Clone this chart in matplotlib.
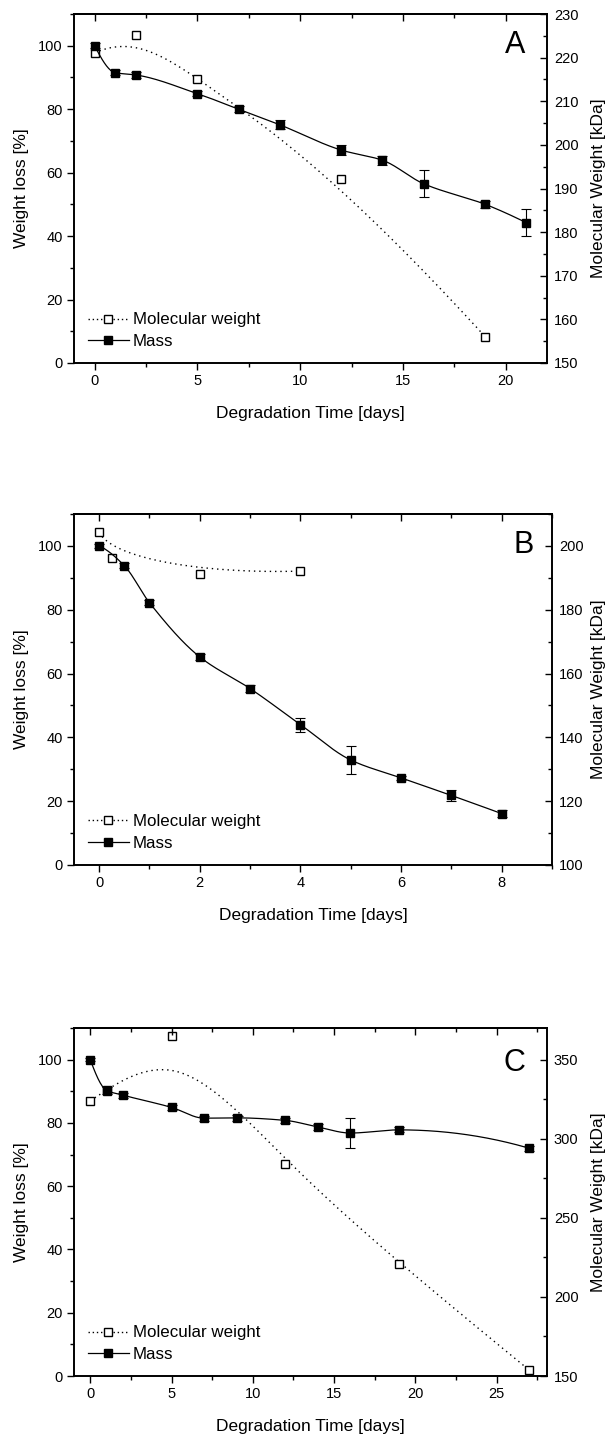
import numpy as np
import matplotlib
matplotlib.use("Agg")
import matplotlib.pyplot as plt
from matplotlib.ticker import MultipleLocator
from matplotlib.lines import Line2D

plt.rcParams['font.family'] = ['Liberation Sans', 'DejaVu Sans']

# ---- panel A ----
a_days = [0, 1, 2, 5, 7, 9, 12, 14, 16, 19, 21]
a_mass = [100, 91.5, 90.8, 84.9, 80.0, 75.1, 67.1, 63.9, 56.5, 50.0, 44.2]
a_err = [0.8, 0.8, 0.9, 0.8, 1.0, 1.5, 1.5, 1.5, 4.2, 1.2, 4.3]
a_mw_days = [0, 2, 5, 12, 19]
a_mw = [221.1, 225.2, 215.1, 192.1, 156.0]

# ---- panel B ----
b_days = [0, 0.5, 1, 2, 3, 4, 5, 6, 7, 8]
b_mass = [100, 93.8, 82.2, 65.2, 55.3, 44.0, 32.9, 27.3, 21.8, 16.1]
b_err = [0.5, 0.8, 0.8, 0.8, 1.2, 2.2, 4.5, 0.6, 1.7, 1.0]
b_mw_days = [0, 0.25, 2, 4]
b_mw = [204.3, 196.2, 191.2, 192.1]

# ---- panel C ----
c_days = [0, 1, 2, 5, 7, 9, 12, 14, 16, 19, 27]
c_mass = [100, 90.3, 88.8, 84.9, 81.5, 81.6, 80.8, 78.7, 76.8, 77.8, 72.0]
c_err = [0.5, 1.2, 0.8, 0.8, 0.8, 1.0, 0.8, 0.8, 4.7, 0.8, 0.8]
c_mw_days = [0, 1, 5, 12, 19, 27]
c_mw = [324.1, 330.0, 365.2, 284.0, 220.9, 153.8]


def pchip(x, y, n=400):
    # shape preserving cubic through the points
    x = np.asarray(x, float)
    y = np.asarray(y, float)
    h = np.diff(x)
    delta = np.diff(y) / h
    m = len(x)
    d = np.zeros(m)
    for i in range(1, m - 1):
        if delta[i - 1] * delta[i] > 0:
            w1 = 2 * h[i] + h[i - 1]
            w2 = h[i] + 2 * h[i - 1]
            d[i] = (w1 + w2) / (w1 / delta[i - 1] + w2 / delta[i])

    def end(h0, h1, d0, d1):
        s = ((2 * h0 + h1) * d0 - h0 * d1) / (h0 + h1)
        if np.sign(s) != np.sign(d0):
            s = 0.0
        elif np.sign(d0) != np.sign(d1) and abs(s) > abs(3 * d0):
            s = 3 * d0
        return s

    d[0] = end(h[0], h[1], delta[0], delta[1])
    d[-1] = end(h[-1], h[-2], delta[-1], delta[-2])
    xx = np.linspace(x[0], x[-1], n)
    i = np.clip(np.searchsorted(x, xx) - 1, 0, m - 2)
    t = (xx - x[i]) / h[i]
    h00 = 2 * t**3 - 3 * t**2 + 1
    h10 = t**3 - 2 * t**2 + t
    h01 = -2 * t**3 + 3 * t**2
    h11 = t**3 - t**2
    yy = h00 * y[i] + h10 * h[i] * d[i] + h01 * y[i + 1] + h11 * h[i] * d[i + 1]
    return xx, yy


def bspline(xs, ys, n=300, k=3):
    # clamped B-spline using the points as control points
    P = np.column_stack([xs, ys]).astype(float)
    m = len(P)
    k = min(k, m - 1)
    knots = np.concatenate([np.zeros(k), np.linspace(0, 1, m - k + 1), np.ones(k)])
    out = []
    for u in np.linspace(0, 1 - 1e-9, n):
        j = np.searchsorted(knots, u, side='right') - 1
        d = [P[j - k + i].copy() for i in range(k + 1)]
        for r in range(1, k + 1):
            for i in range(k, r - 1, -1):
                a = (u - knots[j - k + i]) / (knots[j + 1 + i - r] - knots[j - k + i])
                d[i] = (1 - a) * d[i - 1] + a * d[i]
        out.append(d[k])
    out.append(P[-1])
    out = np.array(out)
    return out[:, 0], out[:, 1]


W, H = 610, 1437
fig = plt.figure(figsize=(W / 100, H / 100), dpi=100)

# axes boxes in pixels: left, bottom(from top), width, height
panels = [
    dict(days=a_days, mass=a_mass, err=a_err, mwd=a_mw_days, mw=a_mw,
         box=(74, 363, 473, 349), xlim=(-1, 22), xmaj=5,
         rlim=(150, 230), rmaj=10, letter='A', lpos=(0.955, 0.91)),
    dict(days=b_days, mass=b_mass, err=b_err, mwd=b_mw_days, mw=b_mw,
         box=(74, 865, 478, 351), xlim=(-0.5, 9), xmaj=2,
         rlim=(100, 210), rmaj=20, letter='B', lpos=(0.962, 0.912)),
    dict(days=c_days, mass=c_mass, err=c_err, mwd=c_mw_days, mw=c_mw,
         box=(74, 1376, 473, 348), xlim=(-1, 28.1), xmaj=5,
         rlim=(150, 370), rmaj=50, letter='C', lpos=(0.955, 0.90)),
]

for p in panels:
    l, b, w, h = p['box']
    ax = fig.add_axes([l / W, 1 - b / H, w / W, h / H])
    ax2 = ax.twinx()
    ax.set_zorder(ax2.get_zorder() + 1)
    ax.patch.set_visible(False)

    # molecular weight (right axis)
    bx, by = bspline(p['mwd'], p['mw'])
    ax2.plot(bx, by, color='k', lw=1.0, ls=(0, (1, 2.8)))
    ax2.plot(p['mwd'], p['mw'], ls='none', marker='s', ms=5.2, mfc='white',
             mec='k', mew=1.0)

    # mass (left axis)
    sx, sy = pchip(p['days'], p['mass'])
    ax.plot(sx, sy, color='k', lw=0.9)
    ax.errorbar(p['days'], p['mass'], yerr=p['err'], fmt='none', ecolor='k',
                elinewidth=0.8, capsize=3.5, capthick=0.8)
    ax.plot(p['days'], p['mass'], ls='none', marker='s', ms=5.8, color='k')

    ax.set_xlim(*p['xlim'])
    ax.set_ylim(0, 110)
    ax2.set_ylim(*p['rlim'])

    ax.xaxis.set_major_locator(MultipleLocator(p['xmaj']))
    ax.xaxis.set_minor_locator(MultipleLocator(p['xmaj'] / 2))
    ax.yaxis.set_major_locator(MultipleLocator(20))
    ax.yaxis.set_minor_locator(MultipleLocator(10))
    ax2.yaxis.set_major_locator(MultipleLocator(p['rmaj']))
    ax2.yaxis.set_minor_locator(MultipleLocator(p['rmaj'] / 2))

    ax.tick_params(axis='both', which='major', direction='out', length=5,
                   width=1.0, labelsize=10.5, pad=3)
    ax.tick_params(axis='both', which='minor', direction='out', length=3,
                   width=1.0)
    ax2.tick_params(axis='y', which='major', direction='in', length=5,
                    width=1.0, labelsize=10.5, pad=5)
    ax2.tick_params(axis='y', which='minor', direction='in', length=3,
                    width=1.0)

    top = ax.secondary_xaxis('top')
    top.xaxis.set_major_locator(MultipleLocator(p['xmaj']))
    top.xaxis.set_minor_locator(MultipleLocator(p['xmaj'] / 2))
    top.tick_params(axis='x', which='major', direction='in', length=5,
                    width=1.0, labeltop=False)
    top.tick_params(axis='x', which='minor', direction='in', length=3,
                    width=1.0)

    for a in (ax, ax2):
        for s in a.spines.values():
            s.set_linewidth(1.2)
    top.spines['top'].set_linewidth(1.2)

    ax.set_xlabel('Degradation Time [days]', fontsize=12.5, labelpad=13)
    ax.set_ylabel('Weight loss [%]', fontsize=12.5, va='center')
    ax2.set_ylabel('Molecular Weight [kDa]', fontsize=12.5, va='center')
    ax.yaxis.set_label_coords((22 - l) / w, 0.5)
    ax2.yaxis.set_label_coords((599 - l) / w, 0.5)

    ax.text(p['lpos'][0], p['lpos'][1], p['letter'], transform=ax.transAxes,
            ha='right', va='center', fontsize=22)

    handles = [
        Line2D([], [], color='k', lw=1.0, ls=(0, (1, 2)), marker='s', ms=5.2,
               mfc='white', mec='k', mew=1.0),
        Line2D([], [], color='k', lw=0.9, marker='s', ms=5.8),
    ]
    ax.legend(handles, ['Molecular weight', 'Mass'], loc='lower left',
              bbox_to_anchor=(0.015, 0.02), frameon=False, fontsize=12.2,
              handlelength=2.4, handletextpad=0.25, labelspacing=0.4,
              borderaxespad=0)

fig.savefig('out.png', dpi=100)
